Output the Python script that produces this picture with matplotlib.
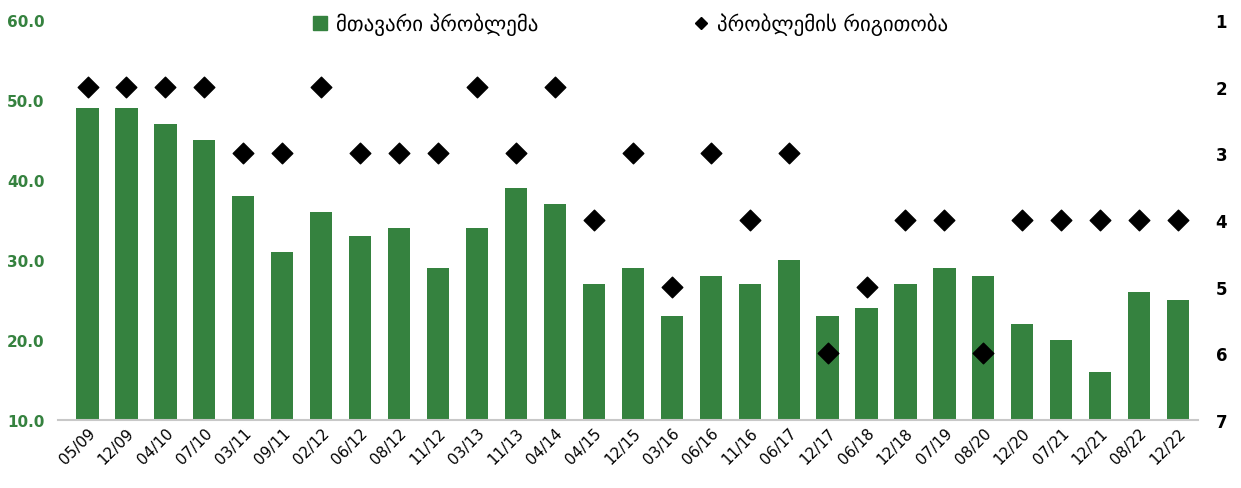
import matplotlib.pyplot as plt
from matplotlib.lines import Line2D
from matplotlib.patches import Patch

plt.rcParams['font.family'] = ['DejaVu Sans']

dates = ["05/09", "12/09", "04/10", "07/10", "03/11", "09/11", "02/12", "06/12",
         "08/12", "11/12", "03/13", "11/13", "04/14", "04/15", "12/15", "03/16",
         "06/16", "11/16", "06/17", "12/17", "06/18", "12/18", "07/19", "08/20",
         "12/20", "07/21", "12/21", "08/22", "12/22"]
main_problem = [49, 49, 47, 45, 38, 31, 36, 33, 34, 29, 34, 39, 37, 27, 29, 23,
                28, 27, 30, 23, 24, 27, 29, 28, 22, 20, 16, 26, 25]
problem_rank = [2, 2, 2, 2, 3, 3, 2, 3, 3, 3, 2, 3, 2, 4, 3, 5,
                3, 4, 3, 6, 5, 4, 4, 6, 4, 4, 4, 4, 4]

green = "#35823f"

fig = plt.figure(figsize=(12.41, 4.89), dpi=100)
ax = fig.add_axes([0.047, 0.139, 0.918, 0.818])
x = range(len(dates))
ax.bar(x, [v - 10 for v in main_problem], bottom=10, width=0.57, color=green, zorder=2)
ax.set_ylim(10, 60)
ax.set_xlim(-0.75, len(dates) - 0.5)
ax.set_yticks([10, 20, 30, 40, 50, 60])
ax.set_yticklabels([f"{v:.1f}" for v in [10, 20, 30, 40, 50, 60]],
                   color=green, fontweight='bold', fontsize=11)
ax.set_xticks(list(x))
ax.set_xticklabels(dates, rotation=45, ha='right', rotation_mode='anchor', fontsize=11)
for s in ['top', 'right', 'left']:
    ax.spines[s].set_visible(False)
ax.spines['bottom'].set_color('#c8c8c8')
ax.spines['bottom'].set_linewidth(1.5)
ax.tick_params(axis='both', length=0)
ax.tick_params(axis='y', pad=10)

ax2 = ax.twinx()
ax2.scatter(x, problem_rank, marker='D', s=110, color='black', zorder=3)
ax2.set_ylim(7, 1)
ax2.set_yticks(range(1, 8))
ax2.set_yticklabels([str(i) for i in range(1, 8)], fontweight='bold', fontsize=12)
for s in ax2.spines.values():
    s.set_visible(False)
ax2.tick_params(axis='y', length=0, pad=13)

handles = [Patch(color=green, label="მთავარი პრობლემა"),
           Line2D([], [], marker='D', color='black', linestyle='None', markersize=6,
                  label="პრობლემის რიგითობა")]
fig.legend(handles=handles, loc='upper center', bbox_to_anchor=(0.508, 1.01), ncol=2,
           frameon=False, fontsize=15, columnspacing=7.5, handlelength=0.7,
           handletextpad=0.4)

fig.savefig("out.png", dpi=100)
